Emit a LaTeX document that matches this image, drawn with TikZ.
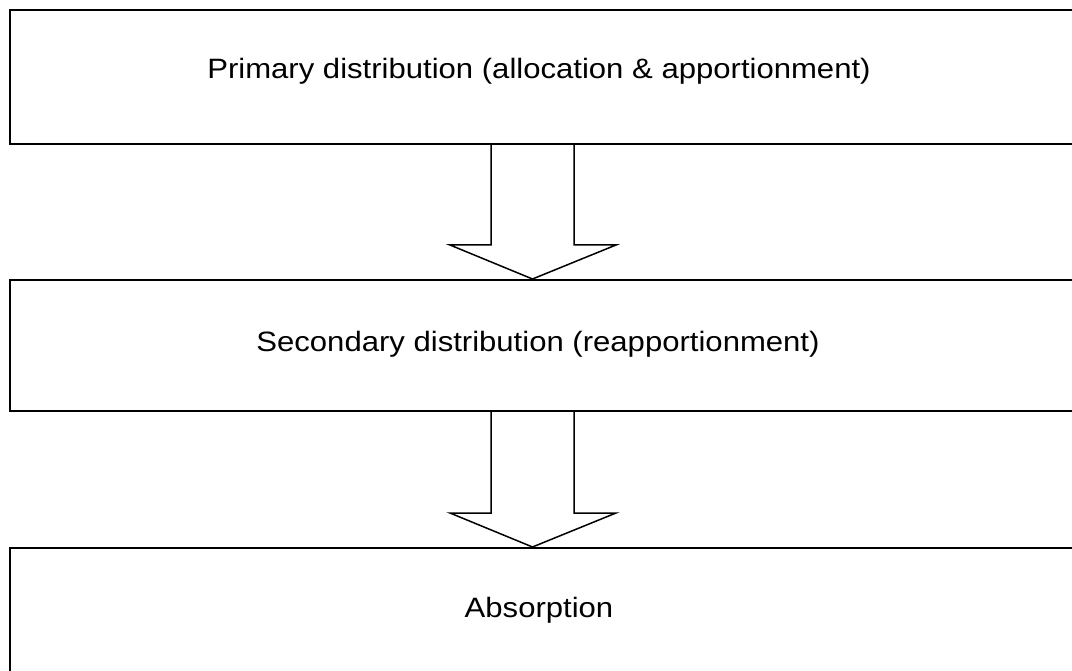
\documentclass[tikz,border=0pt]{standalone}
\usepackage{fontspec}
\setmainfont{Liberation Sans}[FakeStretch=1.11]
\usetikzlibrary{calc}
\begin{document}
\begin{tikzpicture}[x=1pt,y=1pt,
  stagebox/.style={draw=black, line width=2pt},
  stagetext/.style={anchor=base, inner sep=0pt, font=\fontsize{28}{32}\selectfont},
  blockarrow/.style={draw=black, line width=1.5pt, line join=miter}]
  \useasboundingbox (0,0) rectangle (1072,-671);
  \clip (0,0) rectangle (1072,-671);
  % the three stages, running off the right edge
  \node[stagebox, anchor=north west, minimum width=1070pt, minimum height=134pt, inner sep=0pt] (primary) at (9,-9) {};
  \node[stagebox, anchor=north west, minimum width=1070pt, minimum height=131pt, inner sep=0pt] (secondary) at (9,-279) {};
  \node[stagebox, anchor=north west, minimum width=1070pt, minimum height=150pt, inner sep=0pt] (absorption) at (9,-547) {};
  % labels
  \node[stagetext] (ptext) at (539,-79) {Primary distribution (allocation \& apportionment)};
  \node[stagetext] (stext) at (538,-352) {Secondary distribution (reapportionment)};
  \node[stagetext] (atext) at (539,-617) {Absorption};
  % block arrows between the stages
  \coordinate (a1s) at (primary.south -| 532.5,0);
  \coordinate (a1e) at (secondary.north -| 532.5,0);
  \coordinate (a2s) at (secondary.south -| 532.5,0);
  \coordinate (a2e) at (absorption.north -| 532.5,0);
  \foreach \s/\e in {a1s/a1e, a2s/a2e} {
    \draw[blockarrow] ($(\s)+(-41.5,0)$) -- ($(\e)+(-41.5,34)$) -- ($(\e)+(-82.5,34)$)
      -- (\e) -- ($(\e)+(83.5,34)$) -- ($(\e)+(41.5,34)$) -- ($(\s)+(41.5,0)$);
  }
\end{tikzpicture}
\end{document}
